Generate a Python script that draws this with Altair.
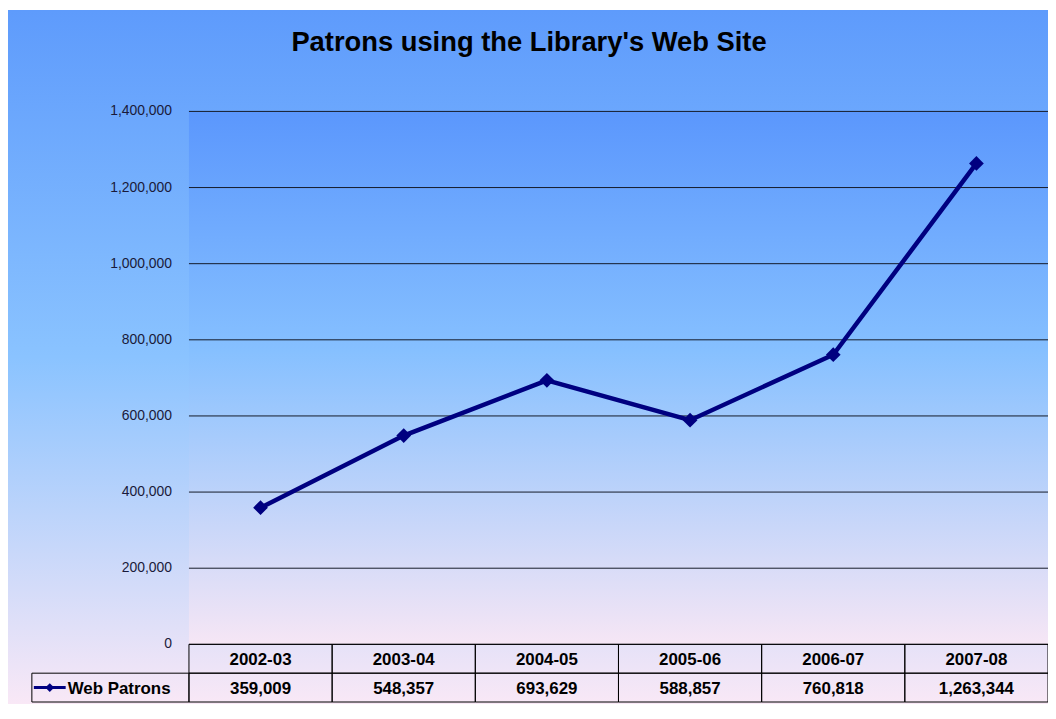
import altair as alt
import pandas as pd

# ---- data ----
categories = ["2002-03", "2003-04", "2004-05", "2005-06", "2006-07", "2007-08"]
values = [359009, 548357, 693629, 588857, 760818, 1263344]
y_ticks = [0, 200000, 400000, 600000, 800000, 1000000, 1200000, 1400000]
series_name = "Web Patrons"
title_text = "Patrons using the Library's Web Site"

df = pd.DataFrame({"period": categories, "patrons": values})
ticks_df = pd.DataFrame({"patrons": y_ticks})
one = pd.DataFrame({"k": [0]})

# ---- layout ----
W, H = 864, 536
ROW = 29
PL, PT, PR, PB = 182, 102, 0, 60
FONT = "Liberation Sans"
NAVY = "#000080"

outer_grad = alt.LinearGradient(
    gradient="linear", x1=0, y1=0, x2=0, y2=1,
    stops=[
        alt.GradientStop(color="#5e9bfc", offset=0),
        alt.GradientStop(color="#8ac3ff", offset=0.5),
        alt.GradientStop(color="#f9e8f6", offset=1),
    ],
)
plot_grad = alt.LinearGradient(
    gradient="linear", x1=0, y1=0, x2=0, y2=1,
    stops=[
        alt.GradientStop(color="#5b97fd", offset=0),
        alt.GradientStop(color="#86c0ff", offset=0.45),
        alt.GradientStop(color="#f6e6f5", offset=1),
    ],
)

yscale = alt.Scale(domain=[0, 1400000], nice=False)
xs = alt.X("period:N", sort=categories,
           scale=alt.Scale(type="band", domain=categories, paddingInner=0, paddingOuter=0),
           axis=None)
ys = alt.Y("patrons:Q", scale=yscale, axis=None)

bg = alt.Chart(one).mark_rect(fill=outer_grad).encode(
    x=alt.value(-PL), x2=alt.value(W), y=alt.value(-PT), y2=alt.value(H + PB))
plot_bg = alt.Chart(one).mark_rect(fill=plot_grad).encode(
    x=alt.value(0), x2=alt.value(W), y=alt.value(0), y2=alt.value(H))

grid = alt.Chart(ticks_df).mark_rule(color="#141a28", strokeWidth=1).encode(
    x=alt.value(0), x2=alt.value(W), y=ys)
ylabels = alt.Chart(ticks_df).mark_text(
    font=FONT, fontSize=14, color="#1a1a3a", align="right", baseline="middle").encode(
    x=alt.value(-17), y=ys, text=alt.Text("patrons:Q", format=","))

title = alt.Chart(pd.DataFrame({"t": [title_text]})).mark_text(
    font=FONT, fontSize=27.5, fontWeight="bold", color="#000000", align="center",
    baseline="middle").encode(x=alt.value(342), y=alt.value(-69), text="t:N")

line = alt.Chart(df).mark_line(color=NAVY, strokeWidth=4.5).encode(x=xs, y=ys)
pts = alt.Chart(df).mark_point(shape="diamond", filled=True, color=NAVY, size=220, opacity=1).encode(x=xs, y=ys)

# data table
TFS = 17
head_cells = alt.Chart(df).mark_rect(fill="transparent", stroke="#000000", strokeWidth=1).encode(
    x=xs, y=alt.value(H), y2=alt.value(H + ROW))
val_cells = alt.Chart(df).mark_rect(fill="transparent", stroke="#000000", strokeWidth=1).encode(
    x=xs, y=alt.value(H + ROW), y2=alt.value(H + 2 * ROW))
head_text = alt.Chart(df).mark_text(font=FONT, fontSize=TFS, fontWeight="bold", color="#000000",
                                    baseline="middle").encode(
    x=xs, y=alt.value(H + ROW / 2 + 1), text="period:N")
val_text = alt.Chart(df).mark_text(font=FONT, fontSize=TFS, fontWeight="bold", color="#000000",
                                   baseline="middle").encode(
    x=xs, y=alt.value(H + ROW + ROW / 2 + 1), text=alt.Text("patrons:Q", format=","))

legend_cell = alt.Chart(one).mark_rect(fill="transparent", stroke="#000000", strokeWidth=1).encode(
    x=alt.value(-158), x2=alt.value(0), y=alt.value(H + ROW), y2=alt.value(H + 2 * ROW))
legend_line = alt.Chart(one).mark_rule(color=NAVY, strokeWidth=3).encode(
    x=alt.value(-156), x2=alt.value(-124), y=alt.value(H + ROW + ROW / 2))
legend_pt = alt.Chart(one).mark_point(shape="diamond", filled=True, color=NAVY, size=80, opacity=1).encode(
    x=alt.value(-140), y=alt.value(H + ROW + ROW / 2))
legend_text = alt.Chart(pd.DataFrame({"name": [series_name]})).mark_text(
    font=FONT, fontSize=TFS, fontWeight="bold", color="#000000", align="left", baseline="middle").encode(
    x=alt.value(-122), y=alt.value(H + ROW + ROW / 2 + 1), text="name:N")

chart = alt.layer(
    bg, plot_bg, grid, ylabels, title, line, pts, head_cells, val_cells, head_text, val_text,
    legend_cell, legend_line, legend_pt, legend_text,
).properties(
    width=W, height=H,
    padding={"left": PL, "top": PT, "right": PR, "bottom": PB},
    autosize=alt.AutoSizeParams(type="none"),
).configure_view(stroke=None).configure(background="#ffffff")

chart.save("out.html", embed_options={"renderer": "svg", "actions": False})
